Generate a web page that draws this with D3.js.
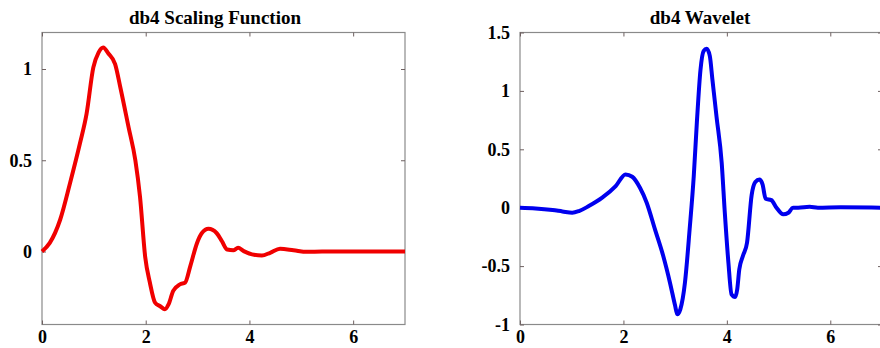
<!DOCTYPE html>
<html>
<head>
<meta charset="utf-8">
<script src="https://cdn.jsdelivr.net/npm/d3@7"></script>
<style>
  body { margin: 0; background: #fff; }
  svg { display: block; }
  .tick text { font-family: "Liberation Serif", "Times New Roman", serif; font-weight: bold; font-size: 18px; fill: #000; }
  .title { font-family: "Liberation Serif", "Times New Roman", serif; font-weight: bold; font-size: 19px; fill: #000; }
</style>
</head>
<body>
<div id="chart"></div>
<script>
// values
var phiT = [0, 0.15, 0.35, 0.54, 0.73, 0.86, 0.99, 1.09, 1.18, 1.28, 1.41, 1.51, 1.67, 1.80, 1.89, 1.99,
  2.08, 2.18, 2.28, 2.37, 2.44, 2.53, 2.66, 2.76, 2.86, 2.99, 3.08, 3.21, 3.37, 3.47, 3.57, 3.69, 3.78,
  3.89, 4.05, 4.24, 4.40, 4.59, 4.85, 5.11, 5.4, 6.0, 7.0];
var phiV = [0, 0.047, 0.174, 0.374, 0.59, 0.755, 1.009, 1.09, 1.118, 1.085, 1.027, 0.9, 0.68, 0.50, 0.30, -0.03,
  -0.17, -0.28, -0.30, -0.316, -0.29, -0.216, -0.18, -0.17, -0.08, 0.047, 0.10, 0.124, 0.10, 0.056, 0.011, 0.007, 0.02,
  0.002, -0.016, -0.022, -0.007, 0.015, 0.007, -0.002, 0, 0, 0];

var psiT = [0, 0.30, 0.63, 0.82, 1.01, 1.14, 1.33, 1.59, 1.85, 2.04, 2.17, 2.32, 2.45, 2.61, 2.77, 2.90, 3.0,
  3.04, 3.10, 3.19, 3.28, 3.36, 3.42, 3.49, 3.55, 3.61, 3.67, 3.72, 3.80, 3.90, 3.96, 4.03, 4.09, 4.16, 4.20,
  4.24, 4.31, 4.39, 4.48, 4.55, 4.63, 4.69, 4.75, 4.86, 4.96, 5.09, 5.19, 5.28, 5.38, 5.6, 5.76, 6.2, 7.0];
var psiV = [0, -0.006, -0.02, -0.032, -0.043, -0.029, 0.014, 0.086, 0.185, 0.285, 0.265, 0.171, 0.043, -0.186, -0.414, -0.642, -0.84,
  -0.913, -0.87, -0.64, -0.186, 0.27, 0.73, 1.18, 1.34, 1.36, 1.30, 1.10, 0.78, 0.385, -0.04, -0.47, -0.742, -0.765, -0.70,
  -0.53, -0.414, -0.30, 0.11, 0.22, 0.242, 0.2, 0.077, 0.065, 0, -0.057, -0.043, 0, 0, 0.008, 0, 0.003, 0];

var xTicks = [0, 2, 4, 6];
var phiTicks = [0, 0.5, 1];
var psiTicks = [-1, -0.5, 0, 0.5, 1, 1.5];

var svgWidth = 880;
var svgHeight = 348;

var svg = d3.select("#chart")
  .append("svg")
  .attr("width", svgWidth)
  .attr("height", svgHeight);

function drawPanel(opt) {
  var x = d3.scaleLinear().domain([0, 7]).range([opt.left, opt.right]);
  var y = d3.scaleLinear().domain(opt.yDomain).range([324.5, 32.5]);
  var g = svg.append("g");

  // box
  g.append("rect")
    .attr("x", opt.left)
    .attr("y", 32.5)
    .attr("width", opt.right - opt.left)
    .attr("height", 292)
    .attr("fill", "none")
    .attr("stroke", "#8a8a8a")
    .attr("stroke-width", 1.2);

  function styleAxis(sel) {
    sel.select(".domain").remove();
    sel.selectAll(".tick line").attr("stroke", "#6e6060").attr("stroke-width", 1);
  }

  g.append("g")
    .attr("transform", "translate(0,324.5)")
    .call(d3.axisBottom(x).tickValues(xTicks).tickSizeInner(-4).tickSizeOuter(0).tickPadding(6).tickFormat(d3.format("d")))
    .call(styleAxis);
  g.append("g")
    .attr("transform", "translate(0,32.5)")
    .call(d3.axisTop(x).tickValues(xTicks).tickSizeInner(-4).tickSizeOuter(0).tickFormat(""))
    .call(styleAxis);
  g.append("g")
    .attr("transform", "translate(" + opt.left + ",0)")
    .call(d3.axisLeft(y).tickValues(opt.yTicks).tickSizeInner(-4).tickSizeOuter(0).tickPadding(10).tickFormat(d => d3.format("")(d).replace("−", "-")))
    .call(styleAxis);
  g.append("g")
    .attr("transform", "translate(" + opt.right + ",0)")
    .call(d3.axisRight(y).tickValues(opt.yTicks).tickSizeInner(-4).tickSizeOuter(0).tickFormat(""))
    .call(styleAxis);

  var pts = opt.t.map((t, i) => [t, opt.v[i]]);
  var line = d3.line()
    .x(d => x(d[0]))
    .y(d => y(d[1]))
    .curve(d3.curveMonotoneX);

  g.append("path")
    .datum(pts)
    .attr("d", line)
    .attr("fill", "none")
    .attr("stroke", opt.color)
    .attr("stroke-width", 4)
    .attr("stroke-linejoin", "round");

  g.append("text")
    .attr("class", "title")
    .attr("x", opt.titleX)
    .attr("y", 24)
    .attr("text-anchor", "middle")
    .text(opt.title);
}

drawPanel({ left: 42, right: 405, yDomain: [-0.4, 1.2], yTicks: phiTicks, t: phiT, v: phiV, color: "#f00000", title: "db4 Scaling Function", titleX: 215 });
drawPanel({ left: 520, right: 882, yDomain: [-1, 1.5], yTicks: psiTicks, t: psiT, v: psiV, color: "#0000ee", title: "db4 Wavelet", titleX: 700 });
</script>
</body>
</html>
